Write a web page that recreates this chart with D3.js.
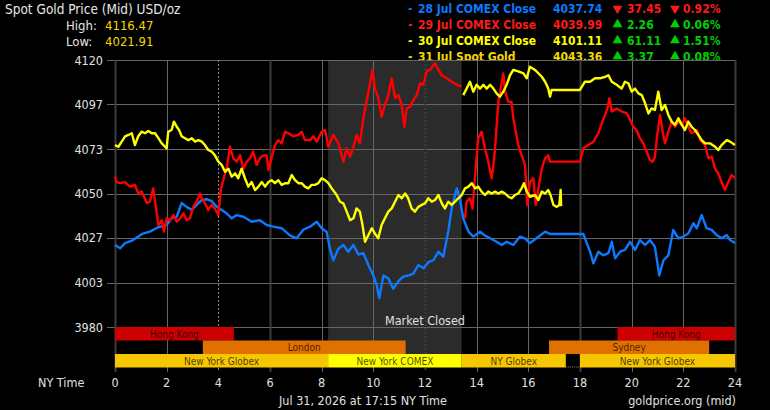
<!DOCTYPE html>
<html>
<head>
	<meta charset="utf-8">
	<title>Spot Gold Price (Mid) USD/oz</title>
	<script src="https://cdn.jsdelivr.net/npm/d3@7/dist/d3.min.js"></script>
	<style>
		body { margin: 0; background: #000; }
		svg { display: block; font-family: 'DejaVu Sans Condensed', 'DejaVu Sans', sans-serif; font-stretch: condensed; }
	</style>
</head>
<body>
	<div class='chart'></div>
	<script>
		// hours (NY time) and mid price
		const jul28 = [
			[0, 4023], [0.2, 4021.3], [0.39, 4024], [0.7, 4025.6], [1.08, 4029], [1.35, 4030], [1.67, 4032.3],
			[2, 4033.5], [2.19, 4037], [2.39, 4037.8], [2.58, 4045], [2.77, 4043], [2.97, 4041.4], [3.16, 4044],
			[3.36, 4046.6], [3.55, 4047], [3.74, 4046], [3.94, 4043], [4.13, 4041.4], [4.32, 4039.6], [4.52, 4037],
			[4.71, 4038.7], [4.97, 4037.8], [5.29, 4035.2], [5.61, 4036], [5.87, 4033.5], [6.13, 4032.6], [6.45, 4031.8],
			[6.77, 4028], [7.03, 4026.5], [7.29, 4031], [7.55, 4032.6], [7.81, 4035.2], [8, 4031.8], [8.19, 4030],
			[8.32, 4021], [8.45, 4015], [8.65, 4021], [8.84, 4023], [9.03, 4019.5], [9.23, 4023], [9.42, 4018],
			[9.61, 4018.7], [9.81, 4012.5], [10, 4007], [10.13, 4002], [10.23, 3995], [10.39, 4007], [10.58, 4005.5],
			[10.77, 4000], [10.97, 4004], [11.16, 4006.4], [11.35, 4007], [11.55, 4008], [11.74, 4012.5], [11.94, 4010.8],
			[12.13, 4014], [12.32, 4015], [12.52, 4019.5], [12.71, 4016.9], [12.9, 4030], [13.03, 4042], [13.16, 4049],
			[13.23, 4052.7], [13.35, 4047.5], [13.48, 4037], [13.68, 4030], [13.87, 4027.4], [14.13, 4030], [14.32, 4028],
			[14.52, 4026.5], [14.77, 4024.7], [14.97, 4023], [15.16, 4024.7], [15.42, 4023], [15.68, 4027.4], [15.87, 4026.5],
			[16.06, 4024], [16.32, 4026.5], [16.65, 4030], [16.84, 4028.8], [18.13, 4028.8], [18.19, 4026.5], [18.39, 4019.5],
			[18.52, 4013.4], [18.71, 4019.5], [18.9, 4017.6], [19.1, 4018.7], [19.23, 4024.7], [19.36, 4016], [19.55, 4019.5],
			[19.74, 4020.4], [19.94, 4024.7], [20.13, 4020.4], [20.32, 4025.6], [20.52, 4023], [20.71, 4025.6], [20.9, 4022],
			[21.07, 4007], [21.23, 4015], [21.42, 4017.6], [21.61, 4030.9], [21.81, 4026.5], [22, 4027.4], [22.19, 4029],
			[22.39, 4034.4], [22.52, 4031.8], [22.71, 4038.7], [22.9, 4031.8], [23.1, 4030.9], [23.29, 4028.2], [23.48, 4026.5],
			[23.68, 4028.2], [23.81, 4025.6], [24, 4024]
		];
		const jul29Morning = [
			[0, 4058.8], [0.06, 4056], [0.19, 4055.4], [0.39, 4056], [0.58, 4053.6], [0.77, 4054.5], [0.9, 4050],
			[1.03, 4051], [1.23, 4045], [1.35, 4045.7], [1.48, 4052.7], [1.59, 4042], [1.68, 4033.5], [1.81, 4036],
			[1.9, 4030], [2, 4037], [2.13, 4036], [2.26, 4038.7], [2.39, 4035.2], [2.52, 4037], [2.65, 4039.6],
			[2.77, 4036], [2.9, 4037], [3.03, 4043], [3.16, 4045.7], [3.29, 4050], [3.36, 4047.5], [3.48, 4045],
			[3.61, 4041.4], [3.74, 4044], [3.87, 4042], [4, 4038.7], [4.1, 4052.7], [4.32, 4063], [4.45, 4074.5],
			[4.58, 4068.5], [4.71, 4066.7], [4.84, 4070], [4.97, 4063], [5.1, 4066.7], [5.23, 4068.5], [5.35, 4072],
			[5.48, 4065], [5.61, 4068.5], [5.74, 4070], [5.87, 4070], [5.94, 4062.3], [6.06, 4068.5], [6.19, 4075.4],
			[6.32, 4078], [6.45, 4076.3], [6.58, 4082.4], [6.71, 4081.6], [6.9, 4080], [7.1, 4080.7], [7.23, 4082.4],
			[7.35, 4078], [7.55, 4078], [7.68, 4080], [7.81, 4077.2], [8, 4082.4], [8.13, 4083.3], [8.26, 4074.5],
			[8.45, 4080.7], [8.65, 4076.3], [8.84, 4066.7], [8.97, 4073.7], [9.1, 4069.3], [9.23, 4074.5], [9.35, 4080.7],
			[9.48, 4076.3], [9.61, 4089.4], [9.81, 4103.4], [9.97, 4114.8], [10.06, 4105], [10.19, 4100], [10.32, 4090.3],
			[10.45, 4096.4], [10.58, 4101.6], [10.71, 4110.4], [10.84, 4100], [10.97, 4101.6], [11.1, 4096.4], [11.2, 4085],
			[11.29, 4094.6], [11.42, 4095.5], [11.55, 4099], [11.68, 4101.6], [11.81, 4107.8], [11.94, 4107], [12.06, 4114],
			[12.19, 4114.8], [12.39, 4118.3], [12.52, 4114.8], [12.65, 4112], [12.84, 4110.4], [13.03, 4108.6], [13.23, 4107],
			[13.42, 4106]
		];
		const jul29Evening = [
			[13.55, 4037], [13.61, 4045.7], [13.74, 4047.5], [13.84, 4042], [13.94, 4059.7], [14.06, 4079], [14.19, 4082.4],
			[14.32, 4073.7], [14.45, 4066.7], [14.58, 4058], [14.65, 4065], [14.71, 4073.7], [14.84, 4098], [14.97, 4108.6],
			[15.03, 4113], [15.1, 4103.4], [15.23, 4098], [15.35, 4098], [15.42, 4089.4], [15.61, 4075.4], [15.74, 4070],
			[15.87, 4065], [15.96, 4044], [16.06, 4056], [16.19, 4058], [16.29, 4044], [16.39, 4052.7], [16.52, 4063],
			[16.65, 4068.5], [16.77, 4070], [16.84, 4066.7], [18, 4066.7], [18.13, 4073.7], [18.32, 4075.4], [18.52, 4077.2],
			[18.71, 4081.6], [18.84, 4086.8], [18.97, 4091.2], [19.06, 4094.6], [19.14, 4100], [19.23, 4093], [19.42, 4094.6],
			[19.61, 4093], [19.81, 4092], [19.94, 4088.5], [20.06, 4085], [20.19, 4083.3], [20.32, 4079], [20.45, 4076.3],
			[20.58, 4072], [20.71, 4067.6], [20.81, 4066.7], [20.9, 4069.3], [20.99, 4080.7], [21.1, 4091.2], [21.2, 4082.4],
			[21.29, 4076.3], [21.42, 4082.4], [21.55, 4087.7], [21.68, 4085], [21.81, 4087.7], [21.94, 4086], [22.06, 4089.4],
			[22.19, 4085], [22.32, 4081.6], [22.52, 4083.3], [22.65, 4078], [22.84, 4075.4], [22.97, 4068.5], [23.1, 4069.3],
			[23.23, 4063], [23.35, 4060.6], [23.48, 4056], [23.61, 4051.8], [23.74, 4056], [23.87, 4059.7], [24, 4058]
		];
		const jul30 = [
			[13.48, 4101.6], [13.61, 4105], [13.74, 4108.6], [13.87, 4103.4], [14, 4107], [14.13, 4105], [14.26, 4107],
			[14.39, 4105], [14.52, 4107], [14.65, 4105], [14.77, 4102.5], [14.9, 4100.8], [15.03, 4103.4], [15.16, 4107],
			[15.29, 4112], [15.42, 4114.8], [15.61, 4114], [15.81, 4113], [15.94, 4110.4], [16.06, 4116.5], [16.26, 4114.8],
			[16.52, 4111.2], [16.65, 4108.6], [16.77, 4105], [16.84, 4100.8], [16.9, 4104.3], [18, 4104.3], [18.19, 4108.6],
			[18.39, 4108.6], [18.58, 4110.4], [18.77, 4110.4], [18.97, 4111.2], [19.1, 4112], [19.23, 4108.6], [19.42, 4107],
			[19.61, 4105], [19.74, 4108.6], [19.87, 4107.8], [20, 4103.4], [20.13, 4105], [20.26, 4102.5], [20.39, 4101.6],
			[20.52, 4097.3], [20.65, 4092], [20.77, 4094.6], [20.9, 4093.8], [21.03, 4103.4], [21.16, 4093.8], [21.29, 4096.4],
			[21.42, 4091.2], [21.55, 4087.7], [21.68, 4086], [21.81, 4089.4], [21.94, 4086], [22.06, 4083.3], [22.19, 4087.7],
			[22.32, 4085], [22.45, 4083.3], [22.58, 4080.7], [22.71, 4078], [22.84, 4076.3], [23.03, 4076.3], [23.23, 4074.5],
			[23.35, 4072.8], [23.48, 4075.4], [23.68, 4078], [23.81, 4077.2], [24, 4075.4]
		];
		const jul31 = [
			[0, 4075.4], [0.13, 4074.5], [0.26, 4077.2], [0.39, 4080], [0.52, 4080.7], [0.65, 4081.6], [0.77, 4075.4],
			[0.9, 4080], [1.03, 4082.4], [1.16, 4081.6], [1.29, 4082.8], [1.42, 4081.6], [1.55, 4081.6], [1.68, 4079],
			[1.81, 4076.3], [1.94, 4074.5], [2, 4073.7], [2.06, 4082.4], [2.19, 4083.3], [2.28, 4087.7], [2.39, 4085],
			[2.48, 4083.3], [2.58, 4080], [2.71, 4079], [2.84, 4078], [2.97, 4079], [3.1, 4077.2], [3.23, 4078],
			[3.36, 4077.2], [3.48, 4075.4], [3.61, 4072.8], [3.74, 4072], [3.87, 4070], [4, 4066.7], [4.13, 4065],
			[4.26, 4061.4], [4.39, 4063], [4.52, 4058.8], [4.65, 4060.6], [4.77, 4058], [4.9, 4063], [5.03, 4058],
			[5.16, 4053.6], [5.29, 4056], [5.42, 4051.8], [5.55, 4053.6], [5.68, 4056], [5.81, 4053.6], [5.94, 4056],
			[6.06, 4057], [6.19, 4055.4], [6.32, 4057], [6.45, 4054.5], [6.58, 4055.4], [6.71, 4055.4], [6.84, 4059.7],
			[6.97, 4057], [7.1, 4055.4], [7.23, 4055.4], [7.35, 4053.6], [7.48, 4052.7], [7.61, 4054.5], [7.74, 4054.5],
			[7.87, 4055.4], [8, 4058], [8.13, 4057], [8.26, 4055.4], [8.39, 4052.7], [8.58, 4049.2], [8.71, 4045.7],
			[8.84, 4044.8], [8.97, 4040.5], [9.1, 4036], [9.23, 4037], [9.35, 4042.2], [9.48, 4040.5], [9.58, 4033.5],
			[9.68, 4024.7], [9.81, 4028.2], [9.94, 4031.8], [10.06, 4029], [10.19, 4026.5], [10.32, 4033.5], [10.45, 4037],
			[10.58, 4040.5], [10.71, 4042.2], [10.84, 4045.7], [10.97, 4049.2], [11.1, 4047.5], [11.23, 4050], [11.35, 4047.5],
			[11.48, 4042.2], [11.61, 4040.5], [11.74, 4043], [11.87, 4044], [12, 4044.8], [12.13, 4047.5], [12.26, 4045.7],
			[12.39, 4046.6], [12.52, 4049.2], [12.65, 4044.8], [12.77, 4042.2], [12.9, 4045.7], [13.03, 4044], [13.16, 4045.7],
			[13.29, 4047.5], [13.42, 4049.2], [13.55, 4052.7], [13.68, 4053.6], [13.81, 4055.4], [13.94, 4052.7], [14.06, 4053.6],
			[14.19, 4051], [14.32, 4049.2], [14.45, 4051], [14.58, 4050], [14.71, 4051], [14.84, 4050], [14.97, 4051],
			[15.1, 4050], [15.23, 4048.3], [15.35, 4047.5], [15.48, 4049.2], [15.61, 4050], [15.74, 4052.7], [15.83, 4055.4],
			[15.94, 4051], [16.06, 4048.3], [16.26, 4049.2], [16.39, 4046.6], [16.52, 4051], [16.65, 4050], [16.77, 4051.8],
			[16.86, 4049.2], [16.97, 4044], [17.1, 4043], [17.2, 4044], [17.25, 4051.8], [17.27, 4043.36]
		];

		const seriesData = [jul28, jul29Morning, jul29Evening, jul30, jul31];
		const seriesColors = ['#0a7aff', '#ff0000', '#ff0000', '#ffff00', '#ffff00'];

		const yTicks = [3980, 4003.33, 4026.67, 4050, 4073.33, 4096.67, 4120];
		const yTickLabels = ['3980', '4003', '4027', '4050', '4073', '4097', '4120'];
		const xTicks = [0, 2, 4, 6, 8, 10, 12, 14, 16, 18, 20, 22, 24];

		// legend rows
		const legendLabels = ['28 Jul COMEX Close', '29 Jul COMEX Close', '30 Jul COMEX Close', '31 Jul Spot Gold'];
		const legendColors = ['#0a7aff', '#ff1a1a', '#ffff00', '#f2d800'];
		const legendValues = ['4037.74', '4039.99', '4101.11', '4043.36'];
		const legendChanges = ['37.45', '2.26', '61.11', '3.37'];
		const legendPercents = ['0.92%', '0.06%', '1.51%', '0.08%'];
		const legendUp = [false, true, true, true];

		const highLow = [['High:', '4116.47'], ['Low:', '4021.91']];

		// trading sessions (hours)
		const marketClosed = [8.25, 13.42];
		const asiaSessions = [
			{ name: 'Hong Kong', from: 0, to: 4.6 },
			{ name: 'Hong Kong', from: 19.45, to: 24 }
		];
		const europeSessions = [
			{ name: 'London', from: 3.4, to: 11.25 },
			{ name: 'Sydney', from: 16.8, to: 23 }
		];
		const nySessions = [
			{ name: 'New York Globex', from: 0, to: 8.25, comex: false },
			{ name: 'New York COMEX', from: 8.25, to: 13.42, comex: true },
			{ name: 'NY Globex', from: 13.42, to: 17.45, comex: false },
			{ name: 'New York Globex', from: 18, to: 24, comex: false }
		];

		const width = 770, height = 410;
		const plot = { left: 115, right: 735, top: 60, bottom: 327 };

		const x = d3.scaleLinear().domain([0, 24]).range([plot.left, plot.right]);
		const y = d3.scaleLinear().domain([3980, 4120]).range([plot.bottom, plot.top]);

		const svg = d3.select('.chart').append('svg')
			.attr('width', width)
			.attr('height', height)
			.style('background', '#000');

		// header
		svg.append('text')
			.attr('x', 5).attr('y', 14)
			.style('font-size', '13.5px').style('fill', '#e6e6e6')
			.text('Spot Gold Price (Mid) USD/oz');

		const hl = svg.append('g').selectAll('g')
			.data(highLow)
			.enter().append('g')
			.attr('transform', (d, i) => 'translate(0,' + (30 + i * 16) + ')');
		hl.append('text').attr('x', 66).style('font-size', '13px').style('fill', '#e6e6e6').text(d => d[0]);
		hl.append('text').attr('x', 105).style('font-size', '13px').style('fill', '#f2d800').text(d => d[1]);

		// legend
		const legend = svg.append('g').selectAll('g')
			.data(legendLabels)
			.enter().append('g')
			.attr('transform', (d, i) => 'translate(0,' + (13 + i * 16) + ')')
			.style('font-size', '12px').style('font-weight', 'bold');
		legend.append('text').attr('x', 408).style('fill', (d, i) => legendColors[i]).text('-');
		legend.append('text').attr('x', 418).style('fill', (d, i) => legendColors[i]).text(d => d);
		legend.append('text').attr('x', 553).style('fill', (d, i) => legendColors[i]).text((d, i) => legendValues[i]);
		const changeColor = (d, i) => legendUp[i] ? '#00d000' : '#ff1a1a';
		const tri = d3.symbol().type(d3.symbolTriangle).size(42);
		[617.5, 675].forEach(tx => {
			legend.append('path')
				.attr('d', tri)
				.attr('transform', (d, i) => 'translate(' + tx + ',-4.5)' + (legendUp[i] ? '' : ' rotate(180)'))
				.style('fill', changeColor);
		});
		legend.append('text').attr('x', 627).style('fill', changeColor).text((d, i) => legendChanges[i]);
		legend.append('text').attr('x', 683).style('fill', changeColor).text((d, i) => legendPercents[i]);

		// plot background hides the bottom of the last legend row
		svg.append('rect')
			.attr('x', plot.left).attr('y', plot.top)
			.attr('width', plot.right - plot.left).attr('height', 312)
			.style('fill', '#000');

		// market closed shading
		svg.append('rect')
			.attr('x', x(marketClosed[0])).attr('y', plot.top)
			.attr('width', x(marketClosed[1]) - x(marketClosed[0]))
			.attr('height', 354 - plot.top)
			.style('fill', '#2b2b2b');

		// grid
		const grid = svg.append('g');
		grid.selectAll('line.h')
			.data(yTicks)
			.enter().append('line')
			.attr('x1', plot.left - 8).attr('x2', plot.right)
			.attr('y1', d => Math.round(y(d)) + 0.5).attr('y2', d => Math.round(y(d)) + 0.5)
			.style('stroke', '#666').style('stroke-width', 1);
		grid.selectAll('line.v')
			.data(xTicks)
			.enter().append('line')
			.attr('x1', d => Math.round(x(d)) + 0.5).attr('x2', d => Math.round(x(d)) + 0.5)
			.attr('y1', plot.top).attr('y2', 372)
			.style('stroke', d => (d % 6 === 0) ? '#3c3c3c' : (d === 4 || d === 12) ? '#8a8a8a' : '#666')
			.style('stroke-width', d => (d % 6 === 0) ? 2 : 1)
			.style('stroke-dasharray', d => (d === 4 || d === 12) ? '2,2' : null);

		// y tick labels
		svg.append('g').selectAll('text')
			.data(yTicks)
			.enter().append('text')
			.attr('x', 103).attr('y', d => y(d) + 4.5)
			.attr('text-anchor', 'end')
			.style('font-size', '12.5px').style('fill', '#e0e0e0')
			.text((d, i) => yTickLabels[i]);

		// price lines
		const line = d3.line()
			.x(d => x(d[0]))
			.y(d => y(d[1]));
		svg.append('g').selectAll('path')
			.data(seriesData)
			.enter().append('path')
			.attr('d', line)
			.style('fill', 'none')
			.style('stroke', (d, i) => seriesColors[i])
			.style('stroke-width', 2.4)
			.style('stroke-linejoin', 'round');

		svg.append('text')
			.attr('x', x(12)).attr('y', 325)
			.attr('text-anchor', 'middle')
			.style('font-size', '12.5px').style('fill', '#e0e0e0')
			.text('Market Closed');

		// session bars
		function sessionRow(data, top, fill) {
			const g = svg.append('g');
			g.selectAll('rect')
				.data(data)
				.enter().append('rect')
				.attr('x', d => x(d.from)).attr('y', top)
				.attr('width', d => x(d.to) - x(d.from)).attr('height', 13.5)
				.style('fill', fill);
			g.selectAll('text')
				.data(data)
				.enter().append('text')
				.attr('x', d => (x(d.from) + x(d.to)) / 2).attr('y', top + 10.5)
				.attr('text-anchor', 'middle')
				.style('font-size', '10px').style('fill', '#000').style('fill-opacity', 0.72)
				.text(d => d.name);
		}
		sessionRow(asiaSessions, 327, '#cc0000');
		sessionRow(europeSessions, 340.5, '#e07000');
		sessionRow(nySessions, 354, d => d.comex ? '#ffff00' : '#f6c600');

		svg.append('line')
			.attr('x1', x(17.45)).attr('x2', x(18))
			.attr('y1', 367).attr('y2', 367)
			.style('stroke', '#888').style('stroke-dasharray', '1,1');

		// x axis
		svg.append('g').selectAll('text')
			.data(xTicks)
			.enter().append('text')
			.attr('x', d => x(d)).attr('y', 387)
			.attr('text-anchor', 'middle')
			.style('font-size', '12.5px').style('fill', '#e0e0e0')
			.text(d => d);
		svg.append('text')
			.attr('x', 38).attr('y', 387)
			.style('font-size', '12.5px').style('fill', '#e0e0e0')
			.text('NY Time');

		// footer
		svg.append('text')
			.attr('x', 363).attr('y', 405)
			.attr('text-anchor', 'middle')
			.style('font-size', '12.5px').style('fill', '#e0e0e0')
			.text('Jul 31, 2026 at 17:15 NY Time');
		svg.append('text')
			.attr('x', 736).attr('y', 405)
			.attr('text-anchor', 'end')
			.style('font-size', '12.5px').style('fill', '#e0e0e0')
			.text('goldprice.org (mid)');
	</script>
</body>
</html>
